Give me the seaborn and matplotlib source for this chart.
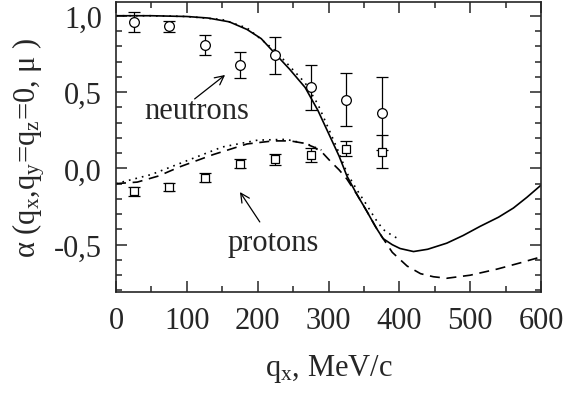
import numpy as np
import pandas as pd
import matplotlib
matplotlib.use("Agg")
import matplotlib.pyplot as plt
import seaborn as sns

# ---- data ----
n_q = [25, 75, 125, 175, 225, 275, 325, 375]
n_y = [0.96, 0.93, 0.81, 0.68, 0.74, 0.53, 0.45, 0.36]
n_err = [0.065, 0.035, 0.065, 0.085, 0.12, 0.145, 0.175, 0.24]

p_q = [25, 75, 125, 175, 225, 275, 325, 375]
p_y = [-0.15, -0.12, -0.06, 0.03, 0.06, 0.09, 0.13, 0.11]
p_err = [0.03, 0.025, 0.03, 0.03, 0.035, 0.045, 0.05, 0.11]

ns_q = [0, 50, 100, 130, 160, 185, 205, 225, 245, 267, 285, 302, 315, 326, 340,
        354, 366, 377, 390, 401, 420, 440, 467, 490, 514, 540, 561, 580, 600]
ns_y = [1.0, 1.0, 0.995, 0.985, 0.96, 0.91, 0.85, 0.75, 0.65, 0.53, 0.38, 0.21,
        0.08, -0.05, -0.17, -0.28, -0.38, -0.46, -0.50, -0.525, -0.545, -0.53,
        -0.49, -0.44, -0.38, -0.32, -0.26, -0.19, -0.11]

nd_q = [0, 50, 100, 150, 185, 225, 245, 267, 285, 302, 315, 326, 340, 354, 366,
        377, 390, 398]
nd_y = [1.0, 1.0, 0.995, 0.975, 0.92, 0.77, 0.67, 0.56, 0.42, 0.24, 0.10, -0.03,
        -0.14, -0.24, -0.33, -0.40, -0.44, -0.46]

pd_q = [0, 30, 60, 90, 137, 185, 222, 246, 265, 279, 292, 302, 315, 326, 340,
        354, 370, 390, 411, 430, 448, 467, 500, 538, 570, 600]
pd_y = [-0.10, -0.09, -0.05, 0.01, 0.09, 0.16, 0.18, 0.18, 0.165, 0.14, 0.10,
        0.05, -0.01, -0.07, -0.17, -0.28, -0.41, -0.55, -0.64, -0.69, -0.71,
        -0.72, -0.70, -0.66, -0.62, -0.58]

pt_q = [0, 50, 100, 150, 200, 240, 270, 290]
pt_y = [-0.10, -0.04, 0.05, 0.14, 0.185, 0.19, 0.16, 0.12]

xticks = [0, 100, 200, 300, 400, 500, 600]
yticks = [-0.5, 0.0, 0.5, 1.0]
ytick_labels = ["-0,5", "0,0", "0,5", "1,0"]

# ---- style ----
sns.set_style("ticks")
plt.rcParams["font.family"] = ["Liberation Serif", "DejaVu Serif"]
plt.rcParams["mathtext.fontset"] = "custom"
plt.rcParams["mathtext.rm"] = "Liberation Serif"
plt.rcParams["mathtext.it"] = "Liberation Serif:italic"
plt.rcParams["font.size"] = 22

fig = plt.figure(figsize=(5.66, 4.10), dpi=100)
ax = fig.add_axes([116 / 566, (410 - 293) / 410, (541 - 116) / 566, (293 - 3) / 410])

lw = 1.2
sns.lineplot(x=ns_q, y=ns_y, ax=ax, color="black", lw=lw, linestyle="-", sort=False)
sns.lineplot(x=nd_q, y=nd_y, ax=ax, color="black", lw=lw, linestyle=(0, (1, 3)), sort=False)
sns.lineplot(x=pd_q, y=pd_y, ax=ax, color="black", lw=lw, linestyle=(0, (6, 4)), sort=False)
sns.lineplot(x=pt_q, y=pt_y, ax=ax, color="black", lw=lw, linestyle=(0, (1, 3)), sort=False)

ax.errorbar(n_q, n_y, yerr=n_err, fmt="o", mfc="white", mec="black", ms=7,
            mew=0.9, ecolor="black", elinewidth=0.9, capsize=4, capthick=0.9, zorder=5)
ax.errorbar(p_q, p_y, yerr=p_err, fmt="s", mfc="white", mec="black", ms=6,
            mew=0.9, ecolor="black", elinewidth=0.9, capsize=4, capthick=0.9, zorder=5)

ax.set_xlim(0, 600)
ax.set_ylim(-0.81, 1.09)
ax.set_xticks(xticks)
ax.set_xticks(np.arange(50, 600, 100), minor=True)
ax.set_yticks(yticks)
ax.set_yticklabels(ytick_labels)
ax.set_yticks([v for v in np.arange(-0.8, 1.05, 0.1) if abs(round(v * 10) % 5) != 0], minor=True)

ax.tick_params(which="both", direction="in", top=True, right=True, width=1.1)
ax.tick_params(which="major", length=8, labelsize=22)
ax.tick_params(axis="y", which="major", pad=10)
ax.tick_params(axis="x", which="major", pad=10)
ax.tick_params(which="minor", length=4.5)
for s in ax.spines.values():
    s.set_linewidth(1.2)

ax.set_xlabel(r"q$_{\rm x}$, MeV/c", fontsize=22, labelpad=12)
ax.set_ylabel(r"α (q$_{\rm x}$,q$_{\rm y}$=q$_{\rm z}$=0, μ )", fontsize=22, labelpad=5)

# arrows (data coordinates)
arrow_kw = dict(arrowstyle="->", lw=0.9, color="black", mutation_scale=16,
                shrinkA=0, shrinkB=0)
ax.annotate("", xy=(154, 0.612), xytext=(111, 0.455), arrowprops=arrow_kw)
ax.annotate("", xy=(175, -0.155), xytext=(203, -0.351), arrowprops=arrow_kw)
ax.text(114, 0.376, "neutrons", fontsize=22, ha="center", va="center")
ax.text(222, -0.483, "protons", fontsize=22, ha="center", va="center")

fig.savefig("out.png", dpi=100)
